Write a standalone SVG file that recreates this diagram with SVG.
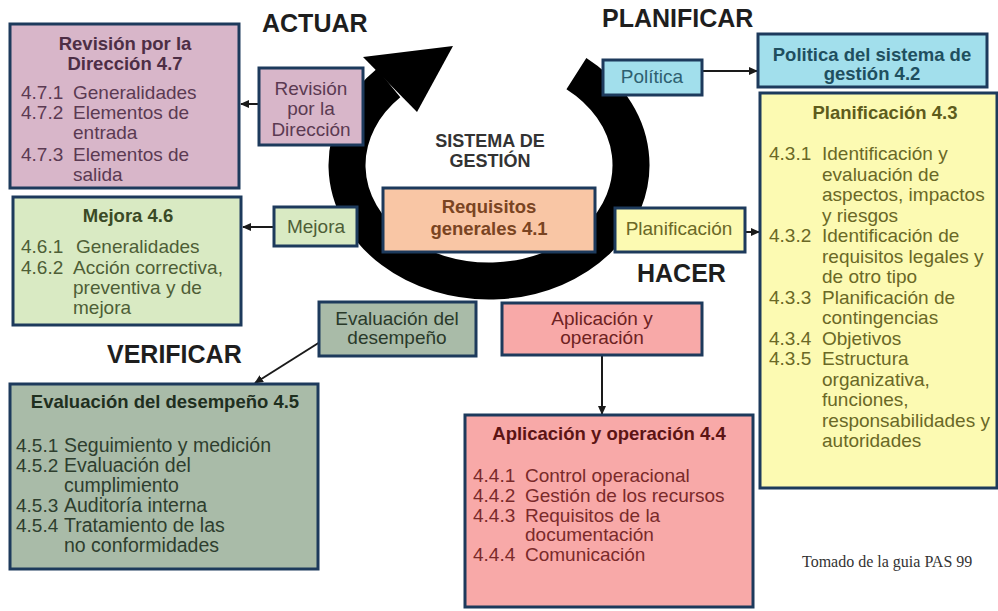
<svg xmlns="http://www.w3.org/2000/svg" width="998" height="611" viewBox="0 0 998 611">
<defs>
<marker id="ah" markerWidth="9" markerHeight="8" refX="8" refY="4" orient="auto" markerUnits="userSpaceOnUse">
<path d="M0,0 L9,4 L0,8 z" fill="#1a1a1a"/>
</marker>
<style>
text{font-family:"Liberation Sans",Arial,sans-serif;}
.box{stroke:#1d3a5c;stroke-width:3;}
.t{font-size:18.5px;font-weight:bold;text-anchor:middle;}
.i{font-size:19px;}
.s{font-size:19px;text-anchor:middle;}
.h{font-size:25px;font-weight:bold;fill:#1e1e1e;}
.mauve{fill:#d8b6c9;}
.green{fill:#d9eac3;}
.gray{fill:#a9bba8;}
.peach{fill:#f9c6a5;}
.cyan{fill:#a2dfec;}
.yellow{fill:#fcfab2;}
.pink{fill:#f8a9a8;}
.conn{stroke:#1a1a1a;stroke-width:2;fill:none;}
</style>
</defs>
<rect width="998" height="611" fill="#ffffff"/>

<g id="cycle">
<path d="M576.4,73.6 A142,116 0 1 1 388.6,83" fill="none" stroke="#000" stroke-width="37"/>
<polygon points="363,57 417,112 453,46" fill="#000"/>
</g>

<g id="headings">
<text class="h" x="262" y="32">ACTUAR</text>
<text class="h" x="602" y="27">PLANIFICAR</text>
<text class="h" x="637" y="282">HACER</text>
<text class="h" x="107" y="363">VERIFICAR</text>
<text x="490" y="147" style="font-size:18px;font-weight:bold;fill:#333;text-anchor:middle">SISTEMA DE</text>
<text x="490" y="167" style="font-size:18px;font-weight:bold;fill:#333;text-anchor:middle">GESTIÓN</text>
</g>

<g id="connectors">
<line class="conn" x1="259" y1="104" x2="241" y2="104" marker-end="url(#ah)"/>
<line class="conn" x1="274" y1="227" x2="243" y2="227" marker-end="url(#ah)"/>
<line class="conn" x1="702" y1="71" x2="757" y2="71" marker-end="url(#ah)"/>
<line class="conn" x1="745" y1="232" x2="759" y2="232" marker-end="url(#ah)"/>
<line class="conn" x1="320" y1="342" x2="255" y2="383" marker-end="url(#ah)"/>
<line class="conn" x1="602" y1="355" x2="602" y2="414" marker-end="url(#ah)"/>
</g>

<g id="revision47">
<rect class="box mauve" x="10" y="24" width="229" height="164"/>
<text class="t" x="125" y="50" fill="#4d2e45">Revisión por la</text>
<text class="t" x="125" y="70" fill="#4d2e45">Dirección 4.7</text>
<g class="i" fill="#5b3a52">
<text x="21" y="99">4.7.1</text><text x="73" y="99">Generalidades</text>
<text x="21" y="119">4.7.2</text><text x="73" y="119">Elementos de</text>
<text x="73" y="139">entrada</text>
<text x="21" y="161">4.7.3</text><text x="73" y="161">Elementos de</text>
<text x="73" y="181">salida</text>
</g>
</g>

<g id="revision">
<rect class="box mauve" x="259" y="68" width="104" height="77"/>
<g class="s" fill="#5b3a52">
<text x="311" y="95">Revisión</text>
<text x="311" y="115">por la</text>
<text x="311" y="136">Dirección</text>
</g>
</g>

<g id="mejora46">
<rect class="box green" x="13" y="197" width="228" height="128"/>
<text class="t" x="128" y="222" fill="#3b4a26">Mejora 4.6</text>
<g class="i" fill="#4e5e36">
<text x="21" y="253">4.6.1</text><text x="76" y="253">Generalidades</text>
<text x="21" y="274">4.6.2</text><text x="73" y="274">Acción correctiva,</text>
<text x="73" y="294">preventiva y de</text>
<text x="73" y="314">mejora</text>
</g>
</g>

<g id="mejora">
<rect class="box green" x="274" y="207" width="83" height="39"/>
<text class="s" x="316" y="233" fill="#4e5e36">Mejora</text>
</g>

<g id="evaluacion">
<rect class="box gray" x="319" y="302" width="157" height="54"/>
<g class="s" fill="#2a3a2a">
<text x="397" y="325">Evaluación del</text>
<text x="397" y="344">desempeño</text>
</g>
</g>

<g id="evaluacion45">
<rect class="box gray" x="10" y="384" width="308" height="185"/>
<text class="t" x="165" y="408" fill="#1f2f1f">Evaluación del desempeño 4.5</text>
<g class="i" fill="#2e3e2e">
<text x="16" y="452">4.5.1</text><text x="64" y="452" style="font-size:19.5px">Seguimiento y medición</text>
<text x="16" y="472">4.5.2</text><text x="64" y="472" style="font-size:19.5px">Evaluación del</text>
<text x="64" y="492" style="font-size:19.5px">cumplimiento</text>
<text x="16" y="512">4.5.3</text><text x="64" y="512" style="font-size:19.5px">Auditoría interna</text>
<text x="16" y="532">4.5.4</text><text x="64" y="532" style="font-size:19.5px">Tratamiento de las</text>
<text x="64" y="552" style="font-size:19.5px">no conformidades</text>
</g>
</g>

<g id="requisitos">
<rect class="box peach" x="383" y="188" width="212" height="64"/>
<text class="t" x="489" y="213" fill="#7a4422">Requisitos</text>
<text class="t" x="489" y="235" fill="#7a4422">generales 4.1</text>
</g>

<g id="politica">
<rect class="box cyan" x="603" y="60" width="99" height="35"/>
<text class="s" x="652" y="83" fill="#2e6070">Política</text>
</g>

<g id="politica42">
<rect class="box cyan" x="758" y="34" width="229" height="53"/>
<text class="t" x="872" y="61" fill="#1f4f5f">Politica del sistema de</text>
<text class="t" x="872" y="80" fill="#1f4f5f">gestión 4.2</text>
</g>

<g id="planificacion43">
<rect class="box yellow" x="760" y="93" width="237" height="395"/>
<text class="t" x="885" y="119" fill="#5e5c1c">Planificación 4.3</text>
<g class="i" fill="#6a6826">
<text x="769" y="160">4.3.1</text><text x="822" y="160">Identificación y</text>
<text x="822" y="180.5">evaluación de</text>
<text x="822" y="201">aspectos, impactos</text>
<text x="822" y="221.5">y riesgos</text>
<text x="769" y="242">4.3.2</text><text x="822" y="242">Identificación de</text>
<text x="822" y="262.5">requisitos legales y</text>
<text x="822" y="283">de otro tipo</text>
<text x="769" y="303.5">4.3.3</text><text x="822" y="303.5">Planificación de</text>
<text x="822" y="324">contingencias</text>
<text x="769" y="344.5">4.3.4</text><text x="822" y="344.5">Objetivos</text>
<text x="769" y="365">4.3.5</text><text x="822" y="365">Estructura</text>
<text x="822" y="385.5">organizativa,</text>
<text x="822" y="406">funciones,</text>
<text x="822" y="426.5">responsabilidades y</text>
<text x="822" y="447">autoridades</text>
</g>
</g>

<g id="planificacion">
<rect class="box yellow" x="615" y="208" width="130" height="44"/>
<text class="s" x="679" y="235" fill="#6a6826">Planificación</text>
</g>

<g id="aplicacion">
<rect class="box pink" x="502" y="303" width="200" height="52"/>
<g class="s" fill="#6e2222">
<text x="602" y="325">Aplicación y</text>
<text x="602" y="344">operación</text>
</g>
</g>

<g id="aplicacion44">
<rect class="box pink" x="465" y="415" width="288" height="192"/>
<text class="t" x="609" y="440" fill="#5c1414">Aplicación y operación 4.4</text>
<g class="i" fill="#7a2a2a">
<text x="473" y="482">4.4.1</text><text x="525" y="482">Control operacional</text>
<text x="473" y="502">4.4.2</text><text x="525" y="502">Gestión de los recursos</text>
<text x="473" y="522">4.4.3</text><text x="525" y="522">Requisitos de la</text>
<text x="525" y="541">documentación</text>
<text x="473" y="561">4.4.4</text><text x="525" y="561">Comunicación</text>
</g>
</g>

<text x="802" y="567" style="font-family:'Liberation Serif','Times New Roman',serif;font-size:16px;fill:#333">Tomado de la guia PAS 99</text>
</svg>
